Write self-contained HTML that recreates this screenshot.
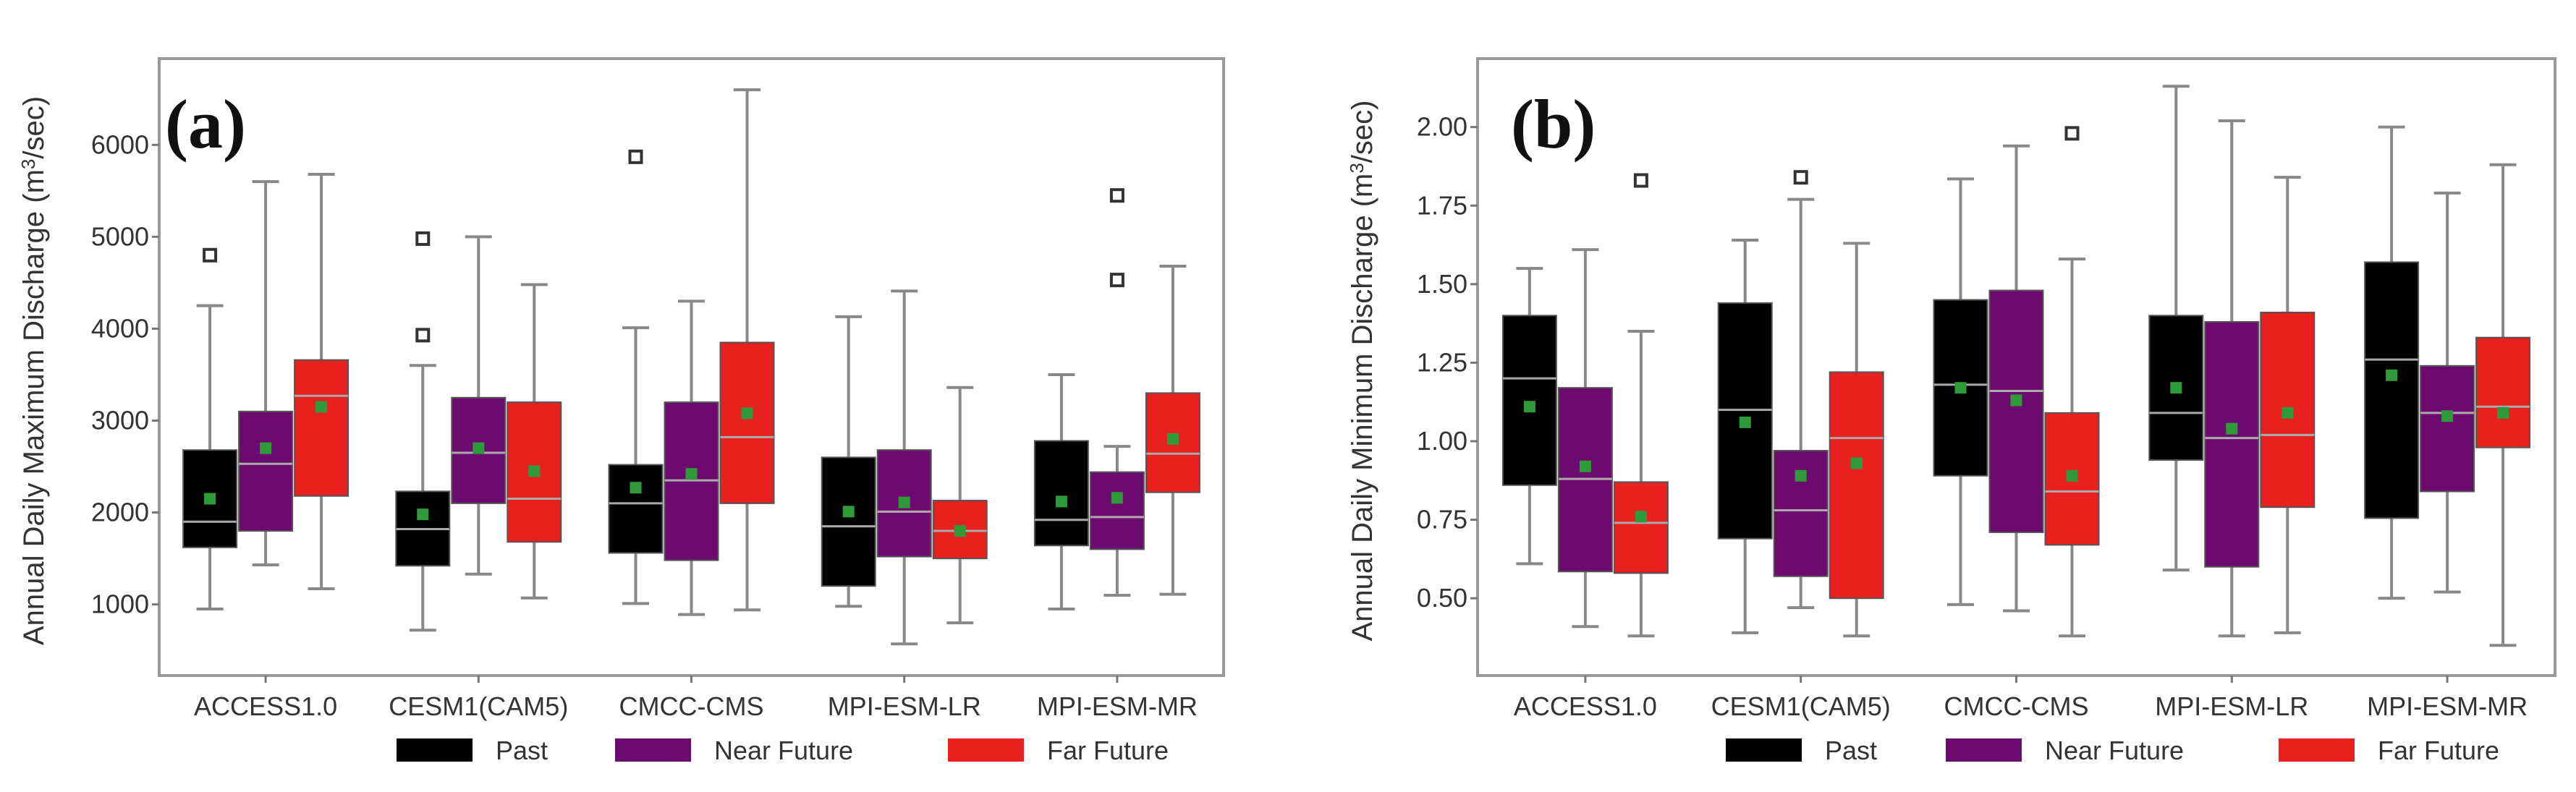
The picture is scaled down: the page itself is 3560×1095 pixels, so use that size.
<!DOCTYPE html>
<html><head><meta charset="utf-8">
<style>
html,body{margin:0;padding:0;background:#fff;}
svg{display:block;}
text{font-family:"Liberation Sans",sans-serif;}
</style></head>
<body>
<svg id="fig" width="3560" height="1095" viewBox="0 0 3560 1095" xmlns="http://www.w3.org/2000/svg"></svg>
<script>
const categories = ["ACCESS1.0","CESM1(CAM5)","CMCC-CMS","MPI-ESM-LR","MPI-ESM-MR"];
const seriesNames = ["Past","Near Future","Far Future"];
// Panel (a) values: [whiskerLow, q1, median, q3, whiskerHigh, mean]
const aPast = [[950,1620,1900,2680,4250,2150],[720,1420,1820,2230,3600,1980],[1010,1560,2100,2520,4010,2270],[980,1200,1850,2600,4130,2010],[950,1640,1920,2780,3500,2120]];
const aNear = [[1430,1800,2530,3100,5600,2700],[1330,2100,2650,3250,5000,2700],[890,1480,2350,3200,4300,2420],[570,1520,2010,2680,4410,2110],[1100,1600,1950,2440,2720,2160]];
const aFar  = [[1170,2180,3270,3660,5680,3150],[1070,1680,2150,3200,4480,2450],[940,2100,2820,3850,6600,3080],[800,1500,1800,2130,3360,1800],[1110,2220,2640,3300,4680,2800]];
const aOutliers = [[0,0,4800],[1,0,4980],[1,0,3930],[2,0,5870],[4,1,5450],[4,1,4530]];
const aTicks = [1000,2000,3000,4000,5000,6000];
const aTickLabels = ["1000","2000","3000","4000","5000","6000"];
// Panel (b)
const bPast = [[0.61,0.86,1.20,1.40,1.55,1.11],[0.39,0.69,1.10,1.44,1.64,1.06],[0.48,0.89,1.18,1.45,1.835,1.17],[0.59,0.94,1.09,1.40,2.13,1.17],[0.50,0.755,1.26,1.57,2.00,1.21]];
const bNear = [[0.41,0.585,0.88,1.17,1.61,0.92],[0.47,0.57,0.78,0.97,1.77,0.89],[0.46,0.71,1.16,1.48,1.94,1.13],[0.38,0.60,1.01,1.38,2.02,1.04],[0.52,0.84,1.09,1.24,1.79,1.08]];
const bFar  = [[0.38,0.58,0.74,0.87,1.35,0.76],[0.38,0.50,1.01,1.22,1.63,0.93],[0.38,0.67,0.84,1.09,1.58,0.89],[0.39,0.79,1.02,1.41,1.84,1.09],[0.35,0.98,1.11,1.33,1.88,1.09]];
const bOutliers = [[0,2,1.83],[1,1,1.84],[2,2,1.98]];
const bTicks = [0.5,0.75,1.0,1.25,1.5,1.75,2.0];
const bTickLabels = ["0.50","0.75","1.00","1.25","1.50","1.75","2.00"];

const colors = ["#000000","#6c0a70","#e8201e"];
const NS = "http://www.w3.org/2000/svg";
const svg = document.getElementById("fig");
function mk(tag, attrs, parent){const e=document.createElementNS(NS,tag);for(const k in attrs)e.setAttribute(k,attrs[k]);(parent||svg).appendChild(e);return e;}

function panel(cfg){
  const g = mk("g",{});
  
  
  const L=cfg.left,R=cfg.right,T=81,B=934;
  const y = v => B - (v-cfg.ymin)/(cfg.ymax-cfg.ymin)*(B-T);
  const step=(R-L)/5;
  const cx = i => L + step*(i+0.5);
  const bw = 74, off = 77;
  const fr = mk("rect",{x:L,y:T,width:R-L,height:B-T,fill:"none",stroke:"#999","stroke-width":4},g);
   
  cfg.ticks.forEach((t,i)=>{
    const tk=mk("line",{x1:L-10,x2:L,y1:y(t),y2:y(t),stroke:"#777","stroke-width":3},g);
     
    const tl=mk("text",{x:L-14,y:y(t)+12,"text-anchor":"end","font-size":36,fill:"#333"},g);
    tl.textContent=cfg.tickLabels[i];
     
  });
  const yt=mk("text",{transform:`translate(${cfg.titleX},${(T+B)/2+5}) rotate(-90)`,"text-anchor":"middle","font-size":40,fill:"#333"},g);
  yt.innerHTML = cfg.title;
   
  categories.forEach((c,i)=>{
    const tk=mk("line",{x1:cx(i),x2:cx(i),y1:B,y2:B+10,stroke:"#777","stroke-width":3},g);
     
    const tl=mk("text",{x:cx(i),y:B+55,"text-anchor":"middle","font-size":36,fill:"#333"},g);
    tl.textContent=c;
     
  });
  cfg.series.forEach((ser,s)=>{
    ser.forEach((d,i)=>{
      const x = cx(i) + (s-1)*off;
      const bg = mk("g",{},g);
      
      
      mk("line",{x1:x,x2:x,y1:y(d[0]),y2:y(d[4]),stroke:"#888","stroke-width":4},bg);
      mk("line",{x1:x-bw/4,x2:x+bw/4,y1:y(d[0]),y2:y(d[0]),stroke:"#888","stroke-width":4},bg);
      mk("line",{x1:x-bw/4,x2:x+bw/4,y1:y(d[4]),y2:y(d[4]),stroke:"#888","stroke-width":4},bg);
      mk("rect",{x:x-bw/2,y:y(d[3]),width:bw,height:y(d[1])-y(d[3]),fill:colors[s],stroke:"#555","stroke-width":2},bg);
      mk("line",{x1:x-bw/2,x2:x+bw/2,y1:y(d[2]),y2:y(d[2]),stroke:"#aaa","stroke-width":3},bg);
      mk("rect",{x:x-8,y:y(d[5])-8,width:16,height:16,fill:"#2f9a3a"},bg);
    });
  });
  cfg.outliers.forEach(o=>{
    const x=cx(o[0])+(o[1]-1)*off;
    const r=mk("rect",{x:x-8,y:y(o[2])-8,width:16,height:16,fill:"#fff",stroke:"#333","stroke-width":4},g);
     
  });
  const pl=mk("text",{x:cfg.labelX,y:204,"font-size":96,"font-weight":"bold",fill:"#111"},g);
  pl.textContent=cfg.label; pl.style.fontFamily='"Liberation Serif",serif';
   
  const lg=mk("g",{},g);
   
  seriesNames.forEach((n,s)=>{
    const e=mk("g",{},lg);
     
    mk("rect",{x:cfg.legX[s],y:1021,width:105,height:32,fill:colors[s]},e);
    const t=mk("text",{x:cfg.legX[s]+137,y:1050,"font-size":36,fill:"#333"},e);
    t.textContent=n;
  });
}
panel({name:"panel-a-max-discharge",left:220,right:1691,ymin:226,ymax:6939,ticks:aTicks,tickLabels:aTickLabels,
  series:[aPast,aNear,aFar],outliers:aOutliers,titleX:60,labelX:228,
  title:'Annual Daily Maximum Discharge (m<tspan dy="-12" font-size="26">3</tspan><tspan dy="12">/sec)</tspan>',
  label:"(a)",legX:[548,850,1310]});
panel({name:"panel-b-min-discharge",left:2042,right:3531,ymin:0.254,ymax:2.218,ticks:bTicks,tickLabels:bTickLabels,
  series:[bPast,bNear,bFar],outliers:bOutliers,titleX:1896,labelX:2088,
  title:'Annual Daily Minimum Discharge (m<tspan dy="-12" font-size="26">3</tspan><tspan dy="12">/sec)</tspan>',
  label:"(b)",legX:[2385,2689,3149]});
</script>
</body></html>
